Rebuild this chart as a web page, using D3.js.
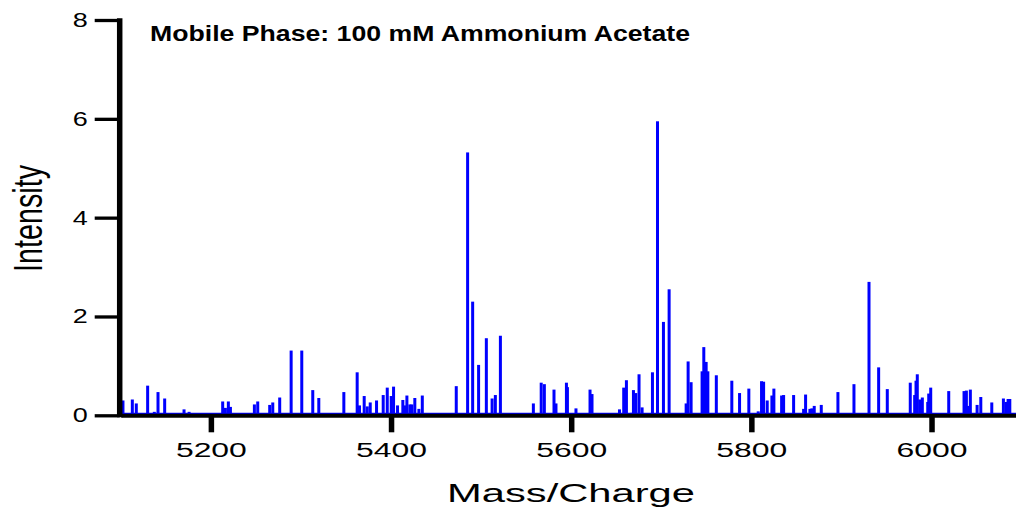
<!DOCTYPE html>
<html>
<head>
<meta charset="utf-8">
<script src="https://cdn.jsdelivr.net/npm/d3@7"></script>
<style>
  html, body { margin: 0; padding: 0; background: #fff; }
  svg { display: block; }
  text { font-family: "Liberation Sans", Arial, sans-serif; fill: #000; }
</style>
</head>
<body>
<svg id="chart" width="1016" height="508"></svg>
<script>
// Peak positions (m/z) and intensities
const masses = [
  5102.4, 5112.8, 5117.2, 5129.8, 5137.2, 5141.3, 5148.7, 5170.2, 5175.8, 5194.2,
  5213.1, 5216.1, 5219.4, 5221.7, 5248.3, 5252.0, 5265.3, 5268.7, 5276.4, 5289.1,
  5300.9, 5313.1, 5319.8, 5347.6, 5362.4, 5365.0, 5370.2, 5373.6, 5376.9, 5383.9,
  5391.3, 5395.8, 5400.2, 5402.8, 5407.2, 5413.1, 5415.3, 5417.6, 5420.9, 5423.1,
  5426.4, 5430.9, 5434.7, 5443.6, 5472.4, 5485.0, 5490.6, 5497.2, 5505.8, 5512.2,
  5515.8, 5521.4, 5558.0, 5566.7, 5570.2, 5580.9, 5583.1, 5594.7, 5595.8, 5605.3,
  5620.9, 5623.1, 5653.6, 5658.3, 5661.3, 5667.2, 5669.1, 5671.7, 5675.3, 5678.7,
  5690.2, 5695.8, 5702.4, 5708.7, 5727.6, 5729.8, 5733.1, 5745.3, 5747.2, 5749.8,
  5751.7, 5761.1, 5778.3, 5786.9, 5797.2, 5807.6, 5811.3, 5813.6, 5817.6, 5822.8,
  5825.0, 5833.6, 5835.8, 5846.9, 5858.0, 5860.2, 5865.0, 5867.2, 5869.8, 5877.6,
  5885.8, 5896.1, 5913.9, 5930.6, 5941.3, 5950.9, 5976.4, 5981.3, 5982.8, 5984.2,
  5986.9, 5989.8, 5995.8, 5996.9, 5999.1, 6016.1, 6019.1, 6036.1, 6038.7, 6040.9,
  6043.1, 6050.6, 6054.7, 6066.9, 6079.8, 6082.8, 6085.0, 6086.9
];
const intensities = [
  0.30, 0.32, 0.24, 0.60, 0.07, 0.47, 0.34, 0.12, 0.07, 0.02,
  0.28, 0.15, 0.28, 0.17, 0.22, 0.28, 0.21, 0.26, 0.36, 1.31,
  1.31, 0.51, 0.35, 0.47, 0.87, 0.20, 0.39, 0.18, 0.26, 0.30,
  0.41, 0.56, 0.39, 0.58, 0.20, 0.31, 0.20, 0.40, 0.22, 0.22,
  0.35, 0.13, 0.40, 0.02, 0.59, 5.32, 2.30, 1.02, 1.56, 0.34,
  0.41, 1.61, 0.24, 0.66, 0.63, 0.52, 0.24, 0.66, 0.57, 0.14,
  0.52, 0.43, 0.12, 0.56, 0.71, 0.05, 0.51, 0.45, 0.83, 0.16,
  0.87, 5.95, 1.89, 2.55, 0.24, 1.09, 0.67, 0.89, 1.38, 1.08,
  0.89, 0.81, 0.70, 0.45, 0.54, 0.08, 0.69, 0.68, 0.30, 0.40,
  0.54, 0.40, 0.41, 0.41, 0.13, 0.42, 0.13, 0.14, 0.19, 0.21,
  0.02, 0.47, 0.63, 2.70, 0.97, 0.53, 0.66, 0.41, 0.70, 0.83,
  0.32, 0.36, 0.27, 0.44, 0.56, 0.02, 0.49, 0.49, 0.50, 0.19,
  0.52, 0.21, 0.37, 0.26, 0.34, 0.27, 0.33, 0.33
];
const xTicks = [5200, 5400, 5600, 5800, 6000];
const yTicks = [0, 2, 4, 6, 8];
const xDomain = [5100, 6100];
const yDomain = [0, 8];
const titleText = "Mobile Phase: 100 mM Ammonium Acetate";
const xTitle = "Mass/Charge";
const yTitle = "Intensity";

const svg = d3.select("#chart");
const x = d3.scaleLinear().domain(xDomain).range([120.8, 1021.6]);
const y = d3.scaleLinear().domain(yDomain).range([415.3, 20]);

const peaks = masses.map((m, i) => ({ m, v: intensities[i] }));

// blue baseline of the spectrum
svg.append("line")
  .attr("x1", x(xDomain[0])).attr("x2", 1016)
  .attr("y1", y(0) - 2).attr("y2", y(0) - 2)
  .attr("stroke", "#0000ff").attr("stroke-width", 1.2);

// peaks
svg.append("g").selectAll("rect").data(peaks).join("rect")
  .attr("x", d => x(d.m) - 1.5)
  .attr("width", 3)
  .attr("y", d => y(d.v))
  .attr("height", d => y(0) - y(d.v))
  .attr("fill", "#0000ff");

// x axis
const gx = svg.append("g").attr("transform", `translate(0,${y(0)})`)
  .call(d3.axisBottom(x).tickValues(xTicks).tickFormat(d3.format("d"))
    .tickSize(17).tickSizeOuter(0).tickPadding(11));
gx.select(".domain").attr("stroke", "#000").attr("stroke-width", 4);
gx.selectAll(".tick line").attr("stroke", "#000").attr("stroke-width", 5.5);
gx.selectAll(".tick text")
  .attr("font-size", 19.5)
  .attr("font-family", "Liberation Sans, Arial, sans-serif")
  .attr("fill", "#000")
  .attr("textLength", 71)
  .attr("lengthAdjust", "spacingAndGlyphs");

// y axis
const gy = svg.append("g").attr("transform", `translate(119.7,0)`)
  .call(d3.axisLeft(y).tickValues(yTicks).tickFormat(d3.format("d"))
    .tickSize(25).tickSizeOuter(0).tickPadding(7));
gy.select(".domain").attr("stroke", "#000").attr("stroke-width", 5.5)
  .attr("d", `M0,${y(8) - 1.7}V${y(0) + 2}`);
gy.selectAll(".tick line").attr("stroke", "#000").attr("stroke-width", 3.3);
gy.selectAll(".tick text")
  .attr("font-size", 20)
  .attr("font-family", "Liberation Sans, Arial, sans-serif")
  .attr("fill", "#000")
  .attr("textLength", 15)
  .attr("lengthAdjust", "spacingAndGlyphs");

// title
svg.append("text")
  .attr("x", 150).attr("y", 41)
  .attr("font-size", 22.5).attr("font-weight", "bold")
  .attr("textLength", 540).attr("lengthAdjust", "spacingAndGlyphs")
  .text(titleText);

// x axis title
svg.append("text")
  .attr("x", 571).attr("y", 502.3)
  .attr("text-anchor", "middle")
  .attr("font-size", 25)
  .attr("textLength", 248).attr("lengthAdjust", "spacingAndGlyphs")
  .text(xTitle);

// y axis title
svg.append("text")
  .attr("transform", "translate(42,218.5) rotate(-90)")
  .attr("text-anchor", "middle")
  .attr("font-size", 41)
  .attr("textLength", 107).attr("lengthAdjust", "spacingAndGlyphs")
  .text(yTitle);
</script>
</body>
</html>
